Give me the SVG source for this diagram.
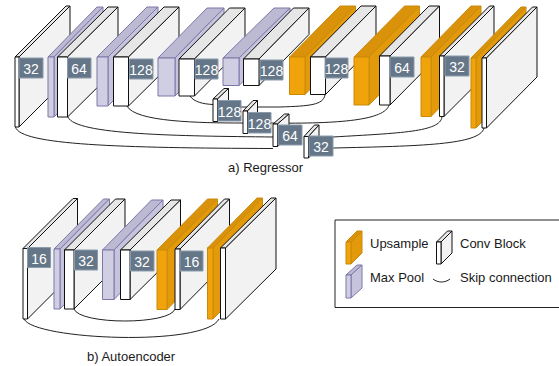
<svg xmlns="http://www.w3.org/2000/svg" width="559" height="366" viewBox="0 0 559 366">
<style>
text{font-family:"Liberation Sans",Arial,sans-serif;fill:#1a1a1a;font-size:13px}
polygon,rect{stroke-linejoin:round;stroke-width:1}
.c polygon,.c rect{stroke:#111}
.c .f{fill:#fff}.c .t{fill:#e6e6e6}.c .s{fill:#f2f2f2}
.p polygon,.p rect{stroke:#7d78a8}
.p .f{fill:#d0cee2}.p .t{fill:#bcb9d3}.p .s{fill:#c6c3dc}
.u polygon,.u rect{stroke:#c98a0a}
.u .f{fill:#f0a30a}.u .t{fill:#d9920a}.u .s{fill:#e39a0a}
.l rect{fill:#647687;stroke:#8a9cac;stroke-width:1}
.l text{fill:#fff;font-size:14px;text-anchor:middle}
#connectors path{fill:none;stroke:#222;stroke-width:1}
</style>
<rect id="legend-box" x="335" y="220" width="226" height="87.5" fill="#fff" stroke="#222" stroke-width="1"/>
<g id="connectors">
<path d="M15.500 127C20 145 120 148 273 148.500M333 148C420 146 480 145 484 128"/>
<path d="M68 117C75 135 180 136 273 137M333 137C400 133 440 132 442 117"/>
<path d="M127 106C135 122 200 123 243 123M271 123C340 124 385 120 389 105"/>
<path d="M190 96C194 102 203 104 213 104.500M241 107L280 107C310 106 323 105 325 95"/>
<path d="M24 319C34 340 205 347 219 319"/>
<path d="M74 309C80 325 170 325 175 309"/>
<path d="M433 279C438 283 445 283 450 279"/>
</g>
<g id="r-conv-1" class="c"><polygon class="t" points="15,57 66,6 70,6 19,57"/><polygon class="s" points="19,57 70,6 70,76 19,127"/><rect class="f" x="15" y="57" width="4" height="70"/><g class="l"><rect x="19" y="58" width="24" height="20"/><text x="31" y="74">32</text></g></g>
<g id="r-pool-1" class="p"><polygon class="t" points="48,57 97,7 103,7 54,57"/><polygon class="s" points="54,57 103,7 103,67 54,117"/><rect class="f" x="48" y="57" width="6" height="60"/></g>
<g id="r-conv-2" class="c"><polygon class="t" points="57.500,57 108,7 118,7 67.500,57"/><polygon class="s" points="67.500,57 118,7 118,67 67.500,117"/><rect class="f" x="57.500" y="57" width="10" height="60"/><g class="l"><rect x="67.500" y="58" width="23.500" height="20"/><text x="79" y="74">64</text></g></g>
<g id="r-pool-2" class="p"><polygon class="t" points="97,57 147,7 158,7 108,57"/><polygon class="s" points="108,57 158,7 158,56 108,106"/><rect class="f" x="97" y="57" width="11" height="49"/></g>
<g id="r-conv-3" class="c"><polygon class="t" points="113.500,57 164,7 179,7 128.500,57"/><polygon class="s" points="128.500,57 179,7 179,56 128.500,106"/><rect class="f" x="113.500" y="57" width="15" height="49"/><g class="l"><rect x="129.500" y="59" width="23.500" height="20"/><text x="141" y="75">128</text></g></g>
<g id="r-pool-3" class="p"><polygon class="t" points="158,58 207,8 224,8 175,58"/><polygon class="s" points="175,58 224,8 224,46 175,96"/><rect class="f" x="158" y="58" width="17" height="38"/></g>
<g id="r-conv-4" class="c"><polygon class="t" points="179,59 229.500,8 245,8 194.500,59"/><polygon class="s" points="194.500,59 245,8 245,45 194.500,96"/><rect class="f" x="179" y="59" width="15.500" height="37"/><g class="l"><rect x="195" y="59" width="23" height="20"/><text x="206.500" y="75">128</text></g></g>
<g id="r-pool-4" class="p"><polygon class="t" points="223,58 274,8 290,8 239,58"/><polygon class="s" points="239,58 290,8 290,35.500 239,85.500"/><rect class="f" x="223" y="58" width="16" height="27.500"/></g>
<g id="r-conv-5" class="c"><polygon class="t" points="243.500,59 293.500,8 309,8 259,59"/><polygon class="s" points="259,59 309,8 309,34.500 259,85.500"/><rect class="f" x="243.500" y="59" width="15.500" height="26.500"/><g class="l"><rect x="260" y="60" width="23" height="20"/><text x="271.500" y="76">128</text></g></g>
<g id="r-up-1" class="u"><polygon class="t" points="289.500,57 340,6 355.500,6 305,57"/><polygon class="s" points="305,57 355.500,6 355.500,43.500 305,94.500"/><rect class="f" x="289.500" y="57" width="15.500" height="37.500"/></g>
<g id="r-conv-6" class="c"><polygon class="t" points="310.500,57 361,6 376,6 325.500,57"/><polygon class="s" points="325.500,57 376,6 376,43.500 325.500,94.500"/><rect class="f" x="310.500" y="57" width="15" height="37.500"/><g class="l"><rect x="325" y="58" width="23" height="20"/><text x="336.500" y="74">128</text></g></g>
<g id="r-up-2" class="u"><polygon class="t" points="354,57 404.500,6 419.500,6 369,57"/><polygon class="s" points="369,57 419.500,6 419.500,54 369,105"/><rect class="f" x="354" y="57" width="15" height="48"/></g>
<g id="r-conv-7" class="c"><polygon class="t" points="379.500,56 429,6 439.500,6 390,56"/><polygon class="s" points="390,56 439.500,6 439.500,55 390,105"/><rect class="f" x="379.500" y="56" width="10.500" height="49"/><g class="l"><rect x="390" y="57" width="24" height="20"/><text x="402" y="73">64</text></g></g>
<g id="r-up-3" class="u"><polygon class="t" points="421,57 471,6 481,6 431,57"/><polygon class="s" points="431,57 481,6 481,65.500 431,116.500"/><rect class="f" x="421" y="57" width="10" height="59.500"/></g>
<g id="r-conv-8" class="c"><polygon class="t" points="439.500,56 489.500,6 494,6 444,56"/><polygon class="s" points="444,56 494,6 494,66.500 444,116.500"/><rect class="f" x="439.500" y="56" width="4.500" height="60.500"/><g class="l"><rect x="445" y="56" width="24" height="20"/><text x="457" y="72">32</text></g></g>
<g id="r-up-4" class="u"><polygon class="t" points="471,58 521,7 526,7 476,58"/><polygon class="s" points="476,58 526,7 526,77 476,128"/><rect class="f" x="471" y="58" width="5" height="70"/></g>
<g id="r-conv-9" class="c"><polygon class="t" points="482,58 532.500,7 537,7 486.500,58"/><polygon class="s" points="486.500,58 537,7 537,77 486.500,128"/><rect class="f" x="482" y="58" width="4.500" height="70"/></g>
<g id="r-skip-1" class="c"><polygon class="t" points="213,99 224,88.500 228.500,88.500 217.500,99"/><polygon class="s" points="217.500,99 228.500,88.500 228.500,111 217.500,121.500"/><rect class="f" x="213" y="99" width="4.500" height="22.500"/><g class="l"><rect x="218" y="100.500" width="23" height="20.500"/><text x="229.500" y="116.500">128</text></g></g>
<g id="r-skip-2" class="c"><polygon class="t" points="243,111 253,100.500 257.500,100.500 247.500,111"/><polygon class="s" points="247.500,111 257.500,100.500 257.500,123 247.500,133.500"/><rect class="f" x="243" y="111" width="4.500" height="22.500"/><g class="l"><rect x="248" y="112.500" width="23" height="20.500"/><text x="259.500" y="128.500">128</text></g></g>
<g id="r-skip-3" class="c"><polygon class="t" points="273,124 284.500,114 289,114 277.500,124"/><polygon class="s" points="277.500,124 289,114 289,136.500 277.500,146.500"/><rect class="f" x="273" y="124" width="4.500" height="22.500"/><g class="l"><rect x="278" y="125" width="24" height="20"/><text x="290" y="141">64</text></g></g>
<g id="r-skip-4" class="c"><polygon class="t" points="304,136.500 314.500,125 319,125 308.500,136.500"/><polygon class="s" points="308.500,136.500 319,125 319,146.500 308.500,158"/><rect class="f" x="304" y="136.500" width="4.500" height="21.500"/><g class="l"><rect x="309" y="136" width="24" height="20"/><text x="321" y="152">32</text></g></g>
<text x="228" y="172">a) Regressor</text>
<g id="a-conv-1" class="c"><polygon class="t" points="23,248.500 73,198.500 77.500,198.500 27.500,248.500"/><polygon class="s" points="27.500,248.500 77.500,198.500 77.500,269 27.500,319"/><rect class="f" x="23" y="248.500" width="4.500" height="70.500"/><g class="l"><rect x="27.500" y="247.500" width="23" height="20"/><text x="39" y="263.500">16</text></g></g>
<g id="a-pool-1" class="p"><polygon class="t" points="54,249 103.500,199 109.500,199 60,249"/><polygon class="s" points="60,249 109.500,199 109.500,259 60,309"/><rect class="f" x="54" y="249" width="6" height="60"/></g>
<g id="a-conv-2" class="c"><polygon class="t" points="64.500,250 115.500,199 125,199 74,250"/><polygon class="s" points="74,250 125,199 125,258 74,309"/><rect class="f" x="64.500" y="250" width="9.500" height="59"/><g class="l"><rect x="74.500" y="250" width="23" height="20"/><text x="86" y="266">32</text></g></g>
<g id="a-pool-2" class="p"><polygon class="t" points="102.500,250 151.500,200 163,200 114,250"/><polygon class="s" points="114,250 163,200 163,249.500 114,299.500"/><rect class="f" x="102.500" y="250" width="11.500" height="49.500"/></g>
<g id="a-conv-3" class="c"><polygon class="t" points="120.500,250 171,200 180.500,200 130,250"/><polygon class="s" points="130,250 180.500,200 180.500,249.500 130,299.500"/><rect class="f" x="120.500" y="250" width="9.500" height="49.500"/><g class="l"><rect x="130.500" y="251" width="23.500" height="20"/><text x="142" y="267">32</text></g></g>
<g id="a-up-1" class="u"><polygon class="t" points="157,250 207.500,199 217.500,199 167,250"/><polygon class="s" points="167,250 217.500,199 217.500,258.500 167,309.500"/><rect class="f" x="157" y="250" width="10" height="59.500"/></g>
<g id="a-conv-4" class="c"><polygon class="t" points="175,249 224.500,199 229.500,199 180,249"/><polygon class="s" points="180,249 229.500,199 229.500,259.500 180,309.500"/><rect class="f" x="175" y="249" width="5" height="60.500"/><g class="l"><rect x="180" y="251" width="23" height="20"/><text x="191.500" y="267">16</text></g></g>
<g id="a-up-2" class="u"><polygon class="t" points="207.500,248 257,198 262.500,198 213,248"/><polygon class="s" points="213,248 262.500,198 262.500,269 213,319"/><rect class="f" x="207.500" y="248" width="5.500" height="71"/></g>
<g id="a-conv-5" class="c"><polygon class="t" points="220.500,248 271,198 276,198 225.500,248"/><polygon class="s" points="225.500,248 276,198 276,269 225.500,319"/><rect class="f" x="220.500" y="248" width="5" height="71"/></g>
<text x="87" y="360.500">b) Autoencoder</text>
<g id="legend-up" class="u"><polygon class="t" points="346,242 357,231 362,231 351,242"/><polygon class="s" points="351,242 362,231 362,253 351,264"/><rect class="f" x="346" y="242" width="5" height="22"/></g>
<g id="legend-pool" class="p"><polygon class="t" points="346,275 357,265 362,265 351,275"/><polygon class="s" points="351,275 362,265 362,288 351,298"/><rect class="f" x="346" y="275" width="5" height="23"/></g>
<g id="legend-conv" class="c"><polygon class="t" points="436.500,242 447.500,231 452,231 441,242"/><polygon class="s" points="441,242 452,231 452,253 441,264"/><rect class="f" x="436.500" y="242" width="4.500" height="22"/></g>
<text x="370" y="248">Upsample</text>
<text x="460" y="248">Conv Block</text>
<text x="370" y="282">Max Pool</text>
<text x="460" y="282">Skip connection</text>
</svg>
